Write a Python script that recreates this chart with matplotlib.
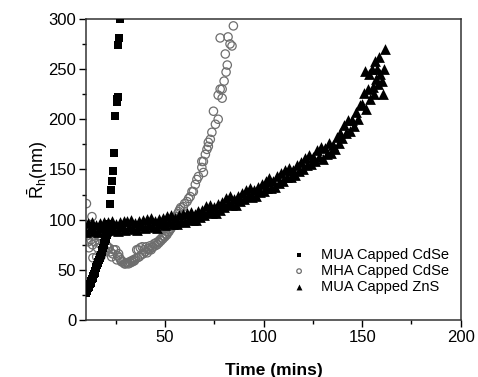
#!/usr/bin/env python3
"""
Hydrodynamic radius growth of capped quantum dots vs time.
"""

import numpy as np
import matplotlib.pyplot as plt
from matplotlib.ticker import MultipleLocator

plt.rcParams['font.family'] = ['Liberation Sans', 'DejaVu Sans']
plt.rcParams['mathtext.fontset'] = 'custom'
plt.rcParams['mathtext.rm'] = 'Liberation Sans'
plt.rcParams['mathtext.it'] = 'Liberation Sans:italic'

# MUA capped CdSe (filled squares)
mua_cdse_t = [10.0, 10.3, 10.6, 11.0, 11.3, 11.6, 12.0, 12.3, 12.6, 13.0,
              13.3, 13.6, 14.0, 14.3, 14.6, 15.0, 15.3, 15.6, 16.0, 16.3,
              16.6, 17.0, 17.3, 17.6, 18.0, 18.3, 18.6, 19.0, 19.3, 19.6,
              20.0, 20.3, 20.6, 21.0, 21.5, 22.2, 22.7, 23.2, 23.7, 24.2,
              24.9, 25.6, 25.9, 26.1, 26.4, 26.9, 27.3]
mua_cdse_r = [27, 29, 30, 32, 33, 34, 36, 37, 39, 41,
              42, 44, 46, 47, 49, 52, 53, 55, 57, 58,
              60, 62, 63, 65, 68, 70, 72, 75, 77, 79,
              81, 83, 85, 88, 96, 116, 130, 139, 148, 166,
              203, 217, 220, 222, 274, 281, 300]

# MHA capped CdSe (open circles)
mha_cdse_t = [10.2, 10.5, 11.0, 11.5, 12.0, 12.5, 13.0, 13.3, 13.5, 14.0,
              14.5, 15.0, 15.4, 15.8, 16.5, 17.0, 17.5, 18.0, 18.5, 19.0,
              19.5, 20.0, 20.5, 21.0, 21.7, 22.3, 23.0, 23.5, 24.0, 25.0,
              25.6, 26.0, 26.5, 27.0, 27.6, 28.0, 28.8, 29.5, 30.0, 30.5,
              31.0, 31.5, 32.0, 32.5, 33.0, 33.5, 34.0, 34.5, 35.0, 35.7,
              36.0, 36.5, 37.0, 37.5, 38.0, 38.5, 39.0, 39.5, 40.0, 40.5,
              41.0, 41.5, 42.0, 42.5, 43.0, 43.5, 44.0, 44.5, 45.0, 45.5,
              46.0, 46.5, 47.0, 47.5, 48.0, 48.5, 49.0, 49.5, 50.0, 50.5,
              51.0, 51.5, 52.0, 52.5, 53.0, 53.5, 54.0, 54.5, 55.0, 55.5,
              56.0, 56.5, 57.0, 57.5, 58.0, 58.8, 59.3, 60.0, 61.2, 62.0,
              62.8, 63.7, 64.4, 65.4, 66.2, 67.0, 68.7, 68.7, 69.5, 69.5,
              70.5, 71.3, 72.0, 72.0, 73.0, 73.8, 74.6, 75.6, 77.0, 77.0,
              78.0, 79.0, 79.0, 80.0, 80.6, 81.0, 81.6, 78.0, 82.0, 83.0,
              84.0, 84.7]
mha_cdse_r = [116, 84, 78, 72, 86, 80, 103, 75, 62, 84,
              78, 88, 63, 72, 84, 76, 63, 80, 68, 85,
              70, 68, 74, 72, 72, 68, 63, 66, 70, 70,
              60, 64, 66, 62, 60, 58, 58, 56, 56, 57,
              57, 56, 58, 57, 59, 58, 60, 59, 61, 70,
              62, 70, 63, 72, 65, 73, 66, 70, 68, 73,
              67, 71, 70, 74, 70, 72, 73, 76, 74, 77,
              75, 78, 77, 80, 79, 82, 81, 84, 83, 86,
              85, 88, 88, 90, 91, 93, 94, 97, 98, 101,
              103, 106, 108, 110, 112, 97, 113, 116, 118, 121,
              123, 128, 128, 135, 140, 143, 152, 158, 147, 158,
              165, 170, 173, 177, 180, 187, 208, 195, 200, 224,
              230, 230, 221, 238, 265, 247, 254, 281, 282, 275,
              273, 293]

# MUA capped ZnS (filled triangles)
mua_zns_t = [10, 11, 12, 13, 14, 15, 16, 17, 18, 19,
             20, 21, 22, 23, 24, 25, 26, 27, 28, 29,
             30, 31, 32, 33, 34, 35, 36, 37, 38, 39,
             40, 41, 42, 43, 44, 45, 46, 47, 48, 49,
             50, 51, 52, 53, 54, 55, 56, 57, 58, 59,
             60, 61, 62, 63, 64, 65, 66, 67, 68, 69,
             70, 71, 72, 73, 74, 75, 76, 77, 78, 79,
             80, 81, 82, 83, 84, 85, 86, 87, 88, 89,
             90, 91, 92, 93, 94, 95, 96, 97, 98, 99,
             100, 101, 102, 103, 104, 105, 106, 107, 108, 109,
             110, 111, 112, 113, 114, 115, 116, 117, 118, 119,
             120, 121, 122, 123, 124, 125, 126, 127, 128, 129,
             130, 131, 132, 133, 134, 135, 136, 137, 138, 139,
             140, 141, 142, 143, 144, 145, 146, 147, 148, 149,
             150, 151, 151.6, 152, 153, 153.5, 154, 155, 155.5, 156,
             156.5, 157, 157.5, 158, 158.5, 159, 160, 160.8, 161, 161.8]
mua_zns_r = [88, 97, 91, 98, 89, 95, 88, 97, 92, 98,
             89, 98, 92, 99, 90, 96, 89, 98, 93, 99,
             90, 99, 93, 100, 91, 97, 90, 99, 94, 100,
             92, 101, 95, 102, 93, 99, 92, 101, 96, 102,
             95, 104, 98, 105, 96, 102, 96, 105, 99, 106,
             98, 107, 101, 108, 100, 106, 100, 109, 103, 110,
             105, 114, 108, 115, 107, 113, 107, 116, 110, 118,
             113, 122, 116, 124, 115, 121, 115, 124, 119, 127,
             121, 130, 124, 132, 123, 130, 124, 133, 128, 136,
             129, 139, 132, 141, 132, 139, 133, 143, 137, 146,
             139, 149, 142, 151, 142, 149, 144, 154, 148, 157,
             150, 161, 154, 164, 155, 162, 158, 169, 162, 172,
             160, 171, 165, 176, 166, 174, 170, 182, 176, 186,
             181, 194, 186, 199, 188, 199, 193, 207, 200, 214,
             215, 226, 248, 210, 230, 245, 220, 250, 232, 225,
             258, 240, 250, 235, 262, 245, 238, 225, 250, 270]

fig = plt.figure(figsize=(4.78, 3.77), dpi=100)
ax = fig.add_axes([0.18, 0.151, 0.784, 0.799])

ax.scatter(mua_cdse_t, mua_cdse_r, marker='s', s=28, c='black',
           linewidths=0, label='MUA Capped CdSe', zorder=3)
ax.scatter(mha_cdse_t, mha_cdse_r, marker='o', s=36, facecolors='none',
           edgecolors='#6e6e6e', linewidths=0.9, label='MHA Capped CdSe', zorder=2)
ax.scatter(mua_zns_t, mua_zns_r, marker='^', s=60, c='black',
           linewidths=0, label='MUA Capped ZnS', zorder=3)

ax.set_xlim(10, 200)
ax.set_ylim(0, 300)
ax.xaxis.set_major_locator(MultipleLocator(50))
ax.xaxis.set_minor_locator(MultipleLocator(25))
ax.yaxis.set_major_locator(MultipleLocator(50))
ax.yaxis.set_minor_locator(MultipleLocator(25))
ax.tick_params(which='both', direction='out', top=False, right=False,
               labelsize=12, width=1.0, colors='black', pad=2)
ax.tick_params(which='major', length=5)
ax.tick_params(which='minor', length=3)
for sp in ax.spines.values():
    sp.set_linewidth(1.1)
    sp.set_color('#333333')

ax.set_xlabel('Time (mins)', fontsize=12.5, fontweight='bold', labelpad=13)
ax.set_ylabel(r'$\bar{\mathrm{R}}_\mathrm{h}$(nm)', fontsize=13, labelpad=-1)

leg = ax.legend(loc='upper left', bbox_to_anchor=(0.549, 0.24), frameon=False,
                fontsize=10.5, markerscale=0.55, handlelength=1.0,
                handletextpad=1.0, labelspacing=0.15, borderpad=0,
                borderaxespad=0)

plt.savefig('out.png', dpi=100)
